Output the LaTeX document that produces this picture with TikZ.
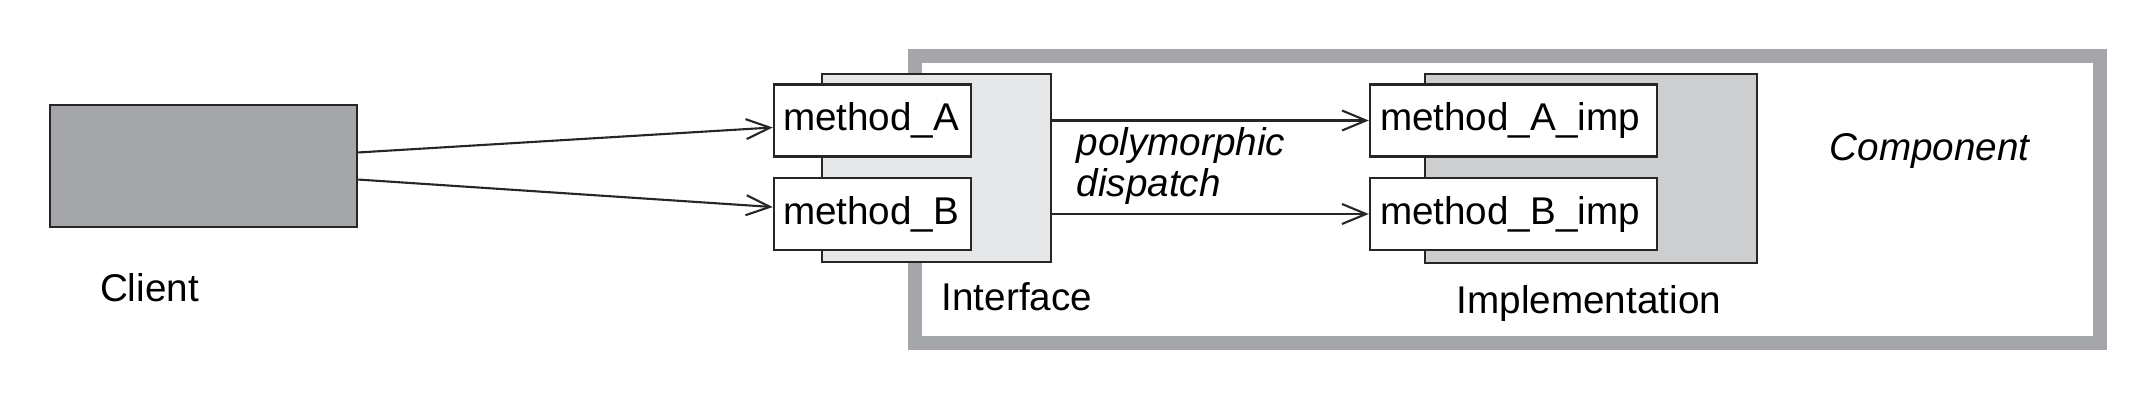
\documentclass[tikz,border=0pt]{standalone}
\usepackage{fontspec}
\setmainfont{Liberation Sans}
\usetikzlibrary{arrows.meta}
\definecolor{clientGray}{RGB}{165,166,170}
\definecolor{frameGray}{RGB}{165,166,170}
\definecolor{ifaceGray}{RGB}{230,231,233}
\definecolor{implGray}{RGB}{205,206,208}
\newcommand{\labelfont}{\fontsize{11}{11.9}\selectfont}
\tikzset{
	backbox/.style={draw, rectangle, line width=0.7pt, inner sep=0pt},
	methodbox/.style={draw, fill=white, rectangle, line width=0.7pt, minimum height=0.72cm, inner xsep=0.09cm, text width=1.79cm, align=left},
	impbox/.style={methodbox, inner xsep=0.10cm, text width=2.67cm},
	callarrow/.style={line width=0.6pt, -{Straight Barb[length=2.4mm,width=2mm]}},
	lbl/.style={inner sep=0pt, font=\labelfont}
}

\begin{document}
\begin{tikzpicture}[font=\labelfont, draw=black!85]
	\useasboundingbox (0,0) rectangle (21.32,4.06);

	% component frame
	\node[draw=frameGray, line width=0.14cm, minimum width=11.85cm, minimum height=2.87cm] (comp) at (15.075,2.065) {};

	\node[backbox, fill=clientGray, minimum width=3.07cm, minimum height=1.22cm] (client) at (2.035,2.40) {};

	\node[backbox, fill=ifaceGray, minimum width=2.29cm, minimum height=1.88cm] (iface) at (9.365,2.38) {};
	\node[methodbox] (mA) at (8.725,2.855) {method\_A};
	\node[methodbox] (mB) at (8.725,1.92) {method\_B};

	\node[backbox, fill=implGray, minimum width=3.32cm, minimum height=1.89cm] (impl) at (15.91,2.375) {};
	\node[impbox] (mAi) at (15.135,2.855) {method\_A\_imp};
	\node[impbox] (mBi) at (15.135,1.92) {method\_B\_imp};

	\draw[callarrow] (client.5) -- (mA.184);
	\draw[callarrow] (client.-5) -- (mB.176);
	\draw[callarrow] (iface.east |- mAi.west) -- (mAi.west);
	\draw[callarrow] (iface.east |- mBi.west) -- (mBi.west);

	\node[lbl, anchor=base] (clientlbl) at (1.495,1.05) {Client};
	\node[lbl, anchor=base west] (ifacelbl) at (9.41,0.96) {Interface};
	\node[lbl, anchor=base west] (impllbl) at (14.56,0.93) {Implementation};
	\node[lbl, anchor=west, align=left, font=\labelfont\itshape] (dispatch) at (10.76,2.40) {polymorphic\\dispatch};
	\node[lbl, anchor=base west, font=\labelfont\itshape] (complbl) at (18.29,2.46) {Component};
\end{tikzpicture}
\end{document}
